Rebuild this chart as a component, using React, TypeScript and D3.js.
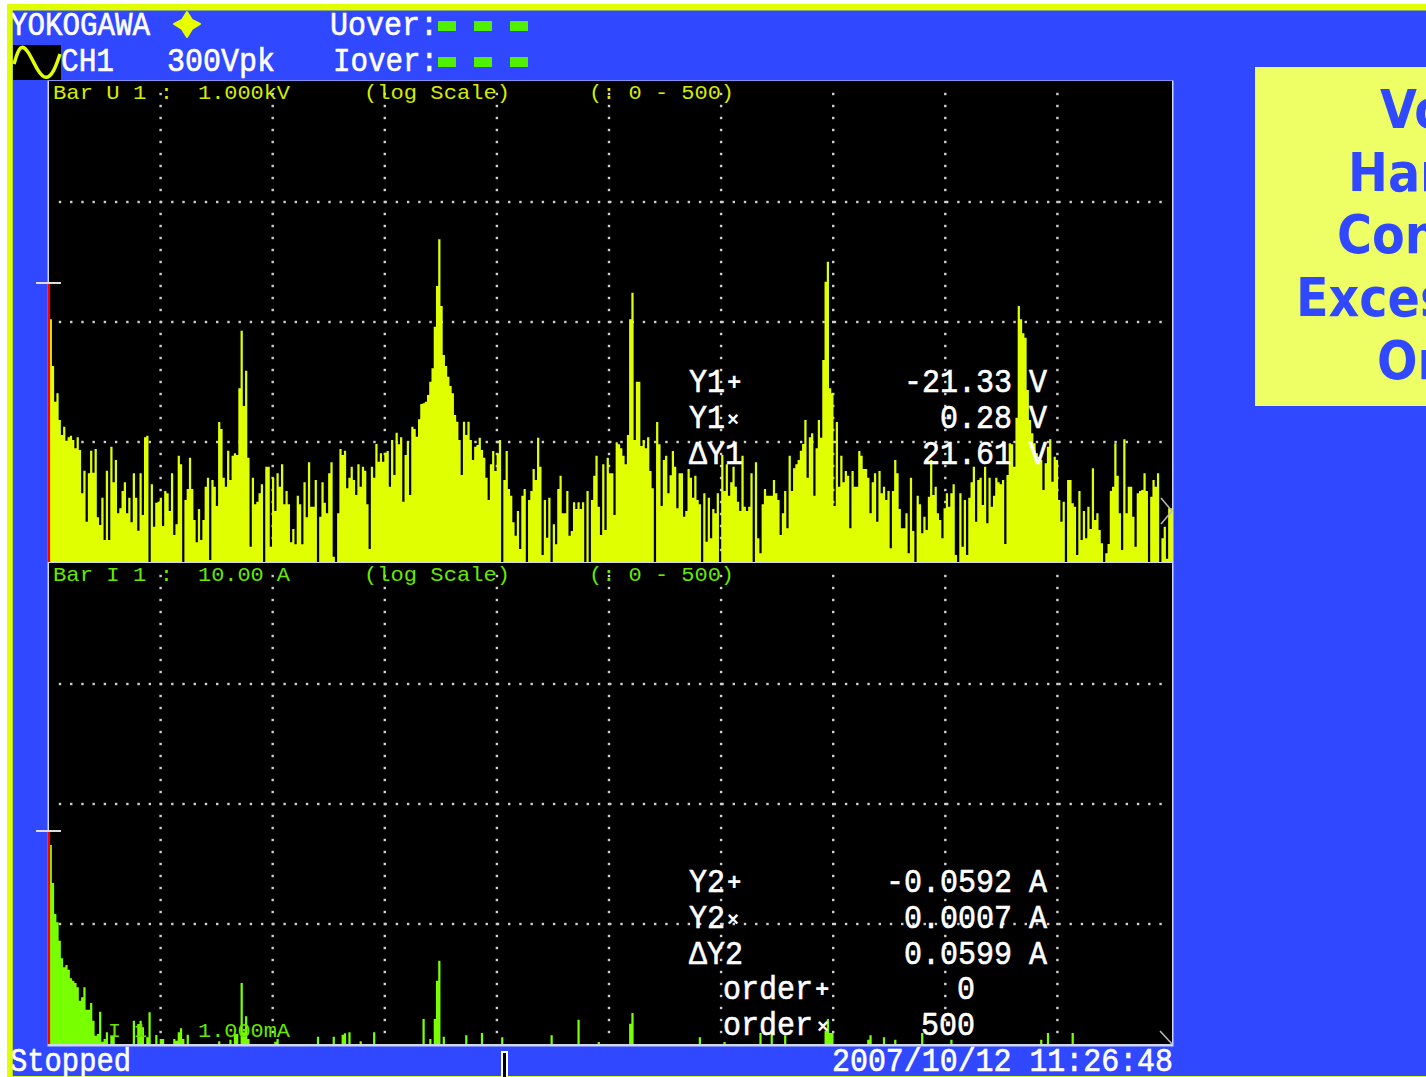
import React from "react";
import * as d3 from "d3";

// Harmonic orders 0..500; level is a log-scale reading in counts (1440 counts = full panel height)
const voltageLevels = [
840,728,588,481,506,426,381,406,364,374,379,
366,341,374,336,206,274,121,266,334,268,
339,134,111,193,66,274,66,346,239,306,
146,161,213,239,146,193,119,266,193,94,
266,141,374,379,0,233,106,178,181,193,
108,213,206,153,266,81,113,319,293,0,
186,219,313,219,126,59,159,66,126,226,
253,6,246,226,168,420,399,253,226,334,
246,319,326,321,521,694,468,574,313,46,
253,173,181,206,233,0,286,286,46,253,
153,266,226,293,173,213,173,59,99,53,
199,173,53,239,134,299,166,166,246,0,
136,239,178,146,266,299,16,0,146,339,
321,334,221,253,286,246,201,293,226,286,
274,173,39,286,253,354,301,326,301,328,
333,226,366,261,388,353,374,181,321,361,
201,406,399,376,428,474,476,481,501,541,
581,706,828,968,768,621,588,556,528,506,
441,421,366,261,421,381,421,366,306,346,
351,373,336,313,253,186,293,333,273,326,
366,0,246,333,219,199,119,79,153,39,
199,219,0,186,213,279,246,373,286,21,
186,73,193,0,113,53,219,259,146,146,
213,79,93,179,159,179,159,179,0,213,
0,186,259,319,166,
81,293,96,313,266,266,141,359,353,341,
319,293,381,728,808,366,541,541,348,366,
341,374,273,221,0,420,353,168,306,319,
206,260,333,286,161,266,266,136,153,279,
253,193,259,186,173,0,206,61,193,71,
159,146,206,0,321,213,293,199,239,286,
226,181,153,319,166,153,166,266,0,299,
71,26,173,219,199,199,199,246,206,186,
81,146,213,101,319,213,281,293,306,334,
354,426,253,374,386,199,341,426,373,606,
841,901,521,506,168,420,226,319,239,273,
259,101,273,226,226,333,319,279,279,253,
146,239,266,121,
273,206,226,186,213,41,213,306,266,159,
101,101,146,26,253,93,0,199,173,86,
136,96,196,306,201,226,146,126,71,161,
206,166,206,233,21,0,206,46,186,21,
193,239,286,121,246,253,171,286,116,253,
166,199,253,239,233,246,54,261,356,353,
286,433,768,728,686,673,516,426,386,356,
326,316,306,216,296,346,368,241,316,306,
186,121,181,0,246,246,176,166,21,213,
66,153,71,166,99,281,126,146,96,56,
0,26,54,213,226,356,259,146,36,368,
146,226,226,136,46,206,213,216,266,213,
0,196,246,226,266,0,71,106,10,161,161,
];

const currentOrders = [0,1,2,3,4,5,6,7,8,9,10,11,12,13,14,15,16,17,18,19,20,21,22,23,24,25,26,28,29,38,40,41,42,44,45,48,50,51,56,57,58,59,60,62,76,81,83,84,86,87,88,89,101,102,120,127,131,132,134,139,145,167,170,172,173,174,176,186,193,202,224,236,245,259,260,290,301,317,322,328,346,347,348,349,365,366,372,377,389,402,442,445,456];
const currentLevels = [642,597,483,390,365,310,257,230,237,223,197,190,183,170,130,140,170,103,103,123,70,25,30,97,7,15,35,25,25,70,60,70,50,20,95,27,15,15,15,10,35,47,15,28,8,13,30,30,183,35,83,15,7,15,22,22,28,32,35,8,35,75,15,75,190,250,22,26,33,20,26,73,6,61,93,20,6,33,33,26,40,75,33,33,13,26,20,13,33,13,13,33,33];

const gridColumns = d3.range(0, 9);
const gridRows = [1, 2, 3];

const cursorRows1 = [
  { label: "Y1", mark: "+", value: "-21.33", unit: "V" },
  { label: "Y1", mark: "×", value: "0.28", unit: "V" },
  { label: "ΔY1", mark: "", value: "21.61", unit: "V" },
];
const cursorRows2 = [
  { label: "Y2", mark: "+", value: "-0.0592", unit: "A" },
  { label: "Y2", mark: "×", value: "0.0007", unit: "A" },
  { label: "ΔY2", mark: "", value: "0.0599", unit: "A" },
];
const sideLines = [
  { text: "Vo", x: 1380 },
  { text: "Har", x: 1348 },
  { text: "Con", x: 1337 },
  { text: "Exces", x: 1296 },
  { text: "Or", x: 1377 },
];
const headerSquares = [438, 474, 510];

const BLUE = "#3048ff";
const YEL = "#e0ff00";
const GREEN = "#78ff00";
const TXT = "#ffffff";
const MONO = "'Liberation Mono', monospace";

const W = 1426, H = 1077;
const px0 = 49, px1 = 1172;
const x = d3.scaleLinear().domain([0, 500]).range([px0, px1]);

function Txt({ x: tx, y, s, n, color = TXT, size = 30, anchor = "start", sy = 1.12, heavy = false }: any) {
  const big = size >= 30;
  return (
    <text transform={`translate(${tx},${y}) scale(1,${big ? sy : 1})`} fontFamily={MONO} fontSize={size} fill={color}
      fontWeight={heavy ? "bold" : "normal"} stroke={big ? color : "none"} strokeWidth={big ? 0.55 : 0} textAnchor={anchor}
      textLength={n} lengthAdjust="spacingAndGlyphs" style={{ whiteSpace: "pre" }}>{s}</text>
  );
}

function Panel({ top, orders, levels, color }: any) {
  const base = top + 480;
  const y = d3.scaleLinear().domain([0, 1440]).range([base, top]);
  const gx = (i: number) => 160.6 + i * 112.1;
  const series: number[] = d3.range(1, 502).map(() => 0);
  orders.forEach((o: number, i: number) => { if (o > 0) series[o - 1] = levels[i]; });
  const area = d3.area<number>()
    .curve(d3.curveStepAfter)
    .x((_, i) => x(i + 1) - 1.6)
    .y0(base)
    .y1((d) => y(d));
  const redLevel = levels[orders.indexOf(0)];
  return (
    <g>
      <rect x={px0} y={top - 1} width={px1 - px0} height={481} fill="#000" />
      {gridRows.map((r) =>
        d3.range(60, 1165, (px1 - px0) / 100).map((dx) => (
          <rect key={`h${r}-${dx}`} x={dx - 1.2} y={top + r * 120 - 1.2} width={2.4} height={2.4} fill="#d0d0d0" />
        ))
      )}
      {gridColumns.map((c) =>
        d3.range(12, 480, 12).map((dy) => (
          <rect key={`v${c}-${dy}`} x={gx(c) - 1.2} y={top + dy - 1.2} width={2.4} height={2.4} fill="#d0d0d0" />
        ))
      )}
      <path d={area(series) as string} fill={color} />
      <rect x={px0 - 1.5} y={y(redLevel)} width={2.6} height={base - y(redLevel)} fill="#ff0000" />
    </g>
  );
}

function Cursor({ rows, yStart }: any) {
  return rows.map((r: any, i: number) => {
    const by = yStart + i * 36;
    return (
      <g key={i}>
        <Txt x={689} y={by} s={r.label} n={r.label.length * 18} />
        {r.mark && <Txt x={727} y={by - 2} s={r.mark} size={r.mark === "+" ? 24 : 20} heavy />}
        <Txt x={1012} y={by} s={r.value} anchor="end" n={r.value.length * 18} />
        <Txt x={1029} y={by} s={r.unit} n={18} />
      </g>
    );
  });
}

export default function App() {
  const allOrders = voltageLevels.map((_, i) => i);
  const wave = d3.line().curve(d3.curveBasis)([[14, 64], [20, 44], [28, 50], [38, 72], [46, 80], [54, 72], [60, 54]] as any) as string;
  return (
    <svg width={W} height={H} viewBox={`0 0 ${W} ${H}`} style={{ position: "absolute", left: 0, top: 0, display: "block" }}>
      <rect x={0} y={0} width={W} height={H} fill="#fff" />
      <rect x={7} y={4} width={W - 7} height={H - 4} fill={YEL} />
      <rect x={12.5} y={10.5} width={W - 12.5} height={1065.5} fill={BLUE} />

      <rect x={1255} y={67} width={W - 1255} height={339} fill="#eeff66" />
      {sideLines.map((l, i) => (
        <text key={l.text} transform={`translate(${l.x},${128 + i * 62.7}) scale(0.9,1)`}
          fontFamily="'DejaVu Sans', sans-serif" fontWeight="bold" fontSize={53} fill={BLUE}>{l.text}</text>
      ))}

      <Txt x={10} y={35} s="YOKOGAWA" n={140} />
      <path d="M187,12 L192,20 L200,24 L192,29 L187,37 L182,29 L174,24 L182,20Z" fill="#e8ff00" stroke="#e8ff00" strokeWidth={2} strokeLinejoin="round" />
      <Txt x={330} y={35} s="Uover:" n={108} />
      <Txt x={333} y={71} s="Iover:" n={105} />
      <Txt x={61} y={71} s="CH1" n={53} />
      <Txt x={167} y={71} s="300Vpk" n={108} />
      {headerSquares.map((sx) => (
        <g key={sx}>
          <rect x={sx} y={21} width={18} height={10} fill="#50f000" />
          <rect x={sx} y={57} width={18} height={10} fill="#50f000" />
        </g>
      ))}
      <rect x={13} y={45} width={48} height={35} fill="#000" />
      <path d={wave} fill="none" stroke="#e0ff00" strokeWidth={3.5} />

      <rect x={47.5} y={80.5} width={1126} height={966} fill="#cfd8f0" />
      <Panel top={82} orders={allOrders} levels={voltageLevels} color={YEL} />
      <Panel top={564} orders={currentOrders} levels={currentLevels} color={GREEN} />

      <Txt x={53} y={99} s="Bar U 1 :" n={120} color="#d4ec00" size={21} />
      <Txt x={198} y={99} s="1.000kV" n={92} color="#d4ec00" size={21} />
      <Txt x={364} y={99} s="(log Scale)" n={146} color="#d4ec00" size={21} />
      <Txt x={589} y={99} s="(: 0 - 500)" n={145} color="#d4ec00" size={21} />
      <Txt x={53} y={581} s="Bar I 1 :" n={120} color="#68e800" size={21} />
      <Txt x={198} y={581} s="10.00 A" n={92} color="#68e800" size={21} />
      <Txt x={364} y={581} s="(log Scale)" n={146} color="#68e800" size={21} />
      <Txt x={589} y={581} s="(: 0 - 500)" n={145} color="#68e800" size={21} />
      <Txt x={108} y={1037} s="I 1" n={39} color="#68e800" size={21} />
      <Txt x={198} y={1037} s="1.000mA" n={92} color="#68e800" size={21} />

      <rect x={36} y={282} width={25} height={2} fill="#ddd" />
      <rect x={36} y={830} width={25} height={2} fill="#ddd" />
      <path d="M1161,498 L1172,511 L1161,524" fill="none" stroke="#bbb" strokeWidth={1.5} />
      <path d="M1160,1031 L1172,1044" fill="none" stroke="#bbb" strokeWidth={1.5} />

      <Cursor rows={cursorRows1} yStart={392} />
      <Cursor rows={cursorRows2} yStart={892} />
      <Txt x={723} y={999} s="order" n={90} />
      <Txt x={815} y={997} s="+" size={24} heavy />
      <Txt x={957} y={999} s="0" n={18} />
      <Txt x={723} y={1035} s="order" n={90} />
      <Txt x={817} y={1033} s="×" size={20} heavy />
      <Txt x={921} y={1035} s="500" n={54} />

      <Txt x={10} y={1071} s="Stopped" n={121} />
      <Txt x={832} y={1071} s="2007/10/12 11:26:48" n={341} />
      <rect x={501} y={1051} width={7} height={26} fill="#fff" />
      <rect x={503} y={1053} width={3} height={24} fill="#000" />
      <rect x={7} y={4} width={5.5} height={H - 4} fill={YEL} />
    </svg>
  );
}
